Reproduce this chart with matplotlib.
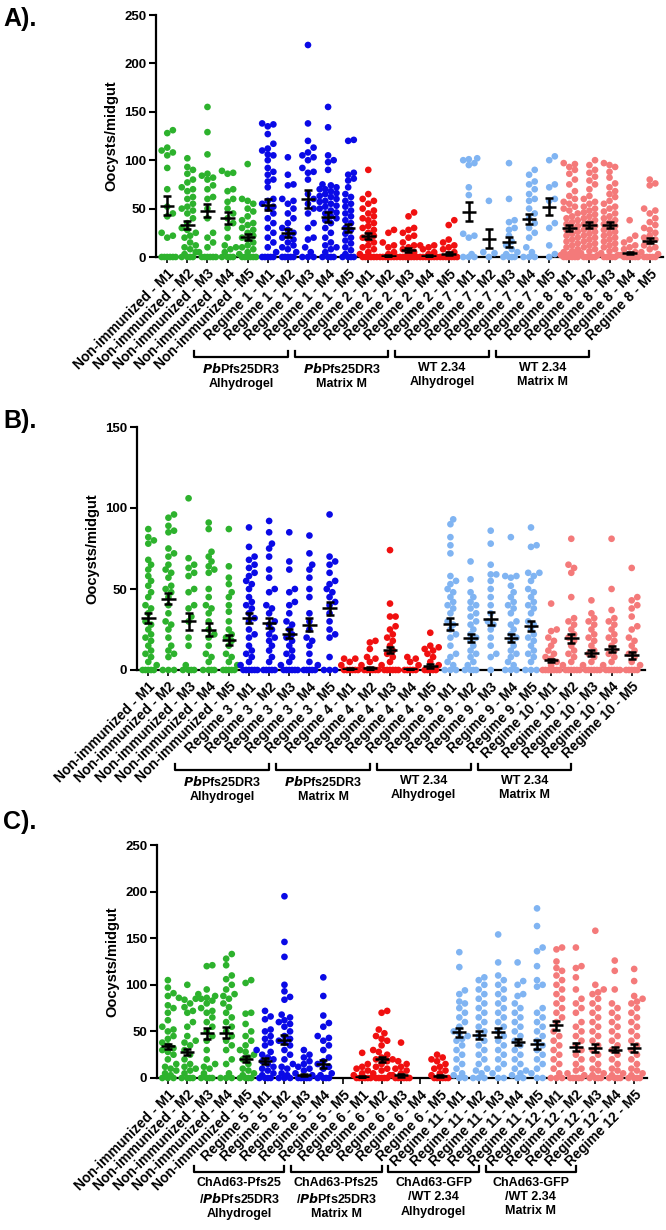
"""Oocyst counts per midgut for three immunisation experiments (panels A-C)."""

import numpy as np
import matplotlib

matplotlib.use("Agg")
import matplotlib.pyplot as plt
from matplotlib.transforms import blended_transform_factory

NARROW = ["Liberation Sans Narrow", "Liberation Sans", "DejaVu Sans"]
plt.rcParams["font.family"] = ["Liberation Sans", "DejaVu Sans"]
plt.rcParams["mathtext.fontset"] = "custom"
plt.rcParams["mathtext.it"] = "Liberation Sans Narrow:italic:bold"
plt.rcParams["mathtext.rm"] = "Liberation Sans Narrow:bold"

COLORS = ["#2db22d", "#0a0ae6", "#f01010", "#80b4f2", "#f47a7a"]
MICE = ["M1", "M2", "M3", "M4", "M5"]

# ---- panel A -------------------------------------------------------------
A_regimes = ["Non-immunized", "Regime 1", "Regime 2", "Regime 7", "Regime 8"]
A_non_immunized = [
    [131, 128, 113, 110, 108, 105, 92, 70, 52, 45, 42, 25, 22, 20, 0, 0, 0, 0, 0, 0],
    [102, 93, 90, 86, 80, 77, 72, 70, 68, 62, 60, 55, 52, 50, 48, 45, 40, 35, 30, 28, 25, 22, 20, 15, 12, 10, 8, 5, 3, 0, 0, 0, 0],
    [155, 129, 106, 86, 84, 82, 80, 74, 70, 62, 60, 50, 40, 25, 20, 15, 10, 5, 0, 0, 0, 0, 0, 0],
    [89, 87, 86, 70, 68, 60, 57, 50, 45, 40, 35, 30, 20, 12, 10, 8, 5, 0, 0, 0, 0],
    [96, 60, 58, 55, 50, 47, 42, 38, 35, 33, 30, 28, 25, 22, 20, 18, 15, 12, 10, 8, 5, 3, 0, 0, 0, 0, 0, 0],
]
A_regime1 = [
    [138, 137, 135, 127, 117, 112, 110, 106, 105, 100, 92, 88, 85, 80, 78, 72, 60, 58, 55, 52, 50, 45, 40, 35, 30, 25, 20, 15, 10, 5, 0, 0, 0, 0, 0],
    [103, 85, 75, 74, 60, 58, 55, 50, 45, 40, 35, 30, 28, 25, 22, 20, 18, 15, 12, 10, 8, 5, 0, 0, 0, 0, 0],
    [219, 138, 120, 113, 108, 105, 103, 100, 92, 88, 87, 80, 65, 60, 55, 50, 45, 35, 30, 20, 18, 10, 5, 0, 0, 0],
    [155, 134, 105, 100, 98, 90, 75, 74, 72, 70, 70, 68, 66, 65, 63, 62, 60, 58, 57, 55, 53, 52, 50, 48, 46, 45, 42, 40, 38, 35, 30, 25, 20, 15, 12, 10, 8, 5, 0, 0, 0, 0],
    [121, 120, 87, 85, 81, 79, 72, 65, 62, 58, 55, 52, 48, 45, 42, 38, 35, 30, 28, 24, 20, 17, 14, 10, 7, 3, 0, 0, 0, 0],
]
A_regime2 = [
    [90, 65, 60, 58, 55, 50, 48, 45, 42, 40, 38, 35, 32, 30, 28, 25, 22, 20, 18, 15, 12, 10, 8, 5, 3, 0, 0, 0, 0, 0, 0],
    [28, 25, 15, 12, 10, 5, 3, 0, 0, 0, 0, 0, 0, 0, 0],
    [46, 42, 30, 28, 25, 22, 20, 15, 12, 10, 8, 5, 3, 0, 0, 0, 0, 0, 0, 0, 0],
    [12, 12, 10, 8, 5, 3, 0, 0, 0, 0, 0, 0, 0, 0],
    [38, 33, 18, 15, 12, 10, 8, 5, 3, 0, 0, 0, 0, 0, 0, 0, 0],
]
A_regime7 = [
    [102, 101, 100, 97, 95, 72, 64, 24, 22, 20, 3, 0, 0, 0],
    [58, 5, 4, 0],
    [97, 60, 38, 36, 30, 28, 22, 16, 12, 8, 5, 3, 0, 0, 0, 0],
    [90, 85, 78, 75, 70, 65, 60, 58, 50, 45, 40, 35, 30, 25, 20, 10, 5, 0, 0, 0],
    [104, 100, 75, 72, 60, 58, 35, 30, 12, 3, 0],
]
A_regime8 = [
    [97, 96, 93, 90, 86, 80, 75, 68, 63, 60, 57, 55, 52, 50, 48, 45, 42, 40, 38, 36, 34, 32, 30, 28, 26, 24, 22, 20, 18, 16, 14, 12, 10, 8, 6, 5, 4, 3, 2, 0, 0, 0, 0, 0, 0],
    [100, 95, 90, 87, 83, 79, 75, 70, 63, 60, 57, 55, 52, 50, 48, 46, 44, 42, 40, 38, 36, 34, 32, 30, 28, 26, 24, 22, 20, 18, 16, 14, 12, 10, 8, 6, 4, 2, 0, 0, 0, 0, 0],
    [97, 95, 93, 88, 82, 76, 72, 68, 65, 62, 58, 55, 52, 50, 47, 45, 42, 40, 38, 36, 34, 32, 30, 28, 26, 24, 22, 20, 18, 16, 14, 12, 10, 8, 6, 4, 2, 0, 0, 0, 0, 0],
    [38, 22, 18, 15, 12, 10, 8, 5, 3, 2, 0, 0, 0, 0, 0, 0],
    [80, 76, 74, 50, 48, 45, 40, 36, 33, 30, 28, 25, 22, 20, 18, 15, 12, 10, 8, 5, 3, 0, 0, 0, 0, 0],
]
A_means = [53, 33, 48, 40, 21, 54, 25, 60, 41, 30, 22, 1, 7, 1, 3.5, 47, 19, 15.5, 39, 52, 30, 33, 33, 4.5, 17]
A_sems = [10, 4, 7, 6, 3, 5.5, 4, 9, 5, 4, 3, 1, 2, 0.7, 1.2, 10, 10, 5, 5, 9, 3.5, 3, 3.5, 1, 2.5]
A_groups = ["$\\mathit{Pb}$Pfs25DR3\nAlhydrogel", "$\\mathit{Pb}$Pfs25DR3\nMatrix M",
            "WT 2.34\nAlhydrogel", "WT 2.34\nMatrix M"]

# ---- panel B -------------------------------------------------------------
B_regimes = ["Non-immunized", "Regime 3", "Regime 4", "Regime 9", "Regime 10"]
B_non_immunized = [
    [87, 82, 80, 78, 68, 65, 62, 58, 55, 52, 48, 45, 40, 38, 35, 30, 28, 25, 22, 20, 18, 15, 12, 10, 8, 5, 3, 0, 0, 0, 0, 0],
    [96, 94, 89, 86, 85, 75, 72, 70, 65, 62, 60, 57, 52, 50, 48, 45, 40, 35, 30, 28, 25, 20, 15, 12, 10, 8, 0, 0, 0],
    [106, 69, 65, 63, 60, 58, 50, 48, 40, 38, 33, 30, 20, 15, 3, 0, 0, 0, 0],
    [91, 87, 73, 70, 67, 64, 62, 60, 50, 45, 40, 38, 35, 30, 25, 22, 20, 15, 10, 8, 5, 0, 0, 0, 0],
    [87, 64, 57, 53, 48, 45, 40, 36, 30, 25, 22, 20, 18, 15, 10, 8, 5, 3, 0, 0, 0, 0, 0],
]
B_regime3 = [
    [88, 76, 70, 68, 65, 63, 60, 58, 55, 53, 50, 45, 42, 40, 38, 35, 32, 30, 25, 22, 20, 15, 12, 10, 8, 5, 3, 0, 0, 0, 0, 0, 0],
    [92, 85, 78, 75, 70, 62, 57, 50, 48, 40, 38, 35, 30, 28, 25, 22, 20, 18, 15, 12, 8, 5, 0, 0, 0, 0, 0],
    [85, 67, 62, 50, 48, 42, 40, 35, 30, 28, 25, 22, 20, 18, 15, 12, 10, 8, 5, 3, 0, 0, 0, 0, 0, 0],
    [83, 72, 65, 62, 57, 50, 45, 35, 30, 25, 20, 18, 15, 10, 5, 3, 0, 0, 0, 0, 0],
    [96, 70, 67, 65, 60, 55, 53, 50, 48, 45, 42, 40, 35, 30, 25, 22, 20, 8, 0, 0, 0],
]
B_regime4 = [
    [7, 7, 5, 3, 0, 0, 0, 0, 0, 0],
    [18, 17, 13, 8, 7, 5, 3, 0, 0, 0, 0, 0, 0],
    [74, 41, 33, 33, 27, 25, 22, 20, 18, 15, 12, 10, 8, 5, 3, 0, 0, 0, 0, 0, 0],
    [8, 7, 5, 3, 0, 0, 0, 0, 0],
    [23, 15, 14, 13, 12, 10, 8, 5, 3, 0, 0, 0, 0, 0],
]
B_regime9 = [
    [93, 90, 82, 77, 72, 58, 55, 53, 50, 48, 45, 42, 40, 38, 35, 30, 28, 25, 22, 20, 15, 10, 8, 5, 3, 0, 0, 0],
    [67, 56, 48, 45, 42, 40, 38, 35, 33, 30, 28, 25, 22, 20, 18, 15, 12, 10, 8, 5, 3, 0, 0, 0, 0],
    [86, 78, 65, 59, 59, 55, 50, 45, 40, 35, 30, 28, 25, 20, 15, 10, 8, 0],
    [82, 58, 58, 57, 52, 48, 45, 42, 40, 38, 35, 30, 28, 25, 22, 20, 18, 15, 12, 10, 8, 5, 3, 0, 0, 0],
    [88, 77, 76, 60, 60, 58, 55, 50, 48, 45, 42, 40, 38, 35, 30, 28, 25, 22, 20, 18, 15, 12, 10, 8, 5, 0, 0, 0],
]
B_regime10 = [
    [41, 25, 24, 20, 18, 15, 12, 10, 8, 7, 5, 3, 0, 0, 0, 0, 0, 0, 0, 0],
    [81, 65, 63, 60, 45, 32, 30, 28, 25, 22, 20, 18, 15, 12, 10, 8, 5, 3, 0, 0, 0, 0, 0, 0],
    [43, 35, 32, 30, 28, 25, 22, 20, 18, 15, 12, 10, 8, 5, 3, 0, 0, 0, 0, 0, 0],
    [81, 50, 37, 32, 30, 28, 25, 22, 20, 18, 15, 12, 10, 8, 5, 3, 0, 0, 0, 0, 0, 0],
    [63, 45, 43, 40, 38, 33, 27, 25, 20, 18, 15, 12, 10, 8, 5, 3, 0, 0, 0, 0, 0],
]
B_means = [32, 44, 30, 25, 18.5, 32, 29, 22.5, 28, 38, 0.5, 1, 12.5, 0.5, 2.5, 28.5, 19.5, 31.5, 19.5, 27, 6, 19.5, 10.5, 13, 9]
B_sems = [3, 3.5, 5, 4, 3, 3, 3, 3, 4, 4, 0.5, 0.7, 2, 0.4, 1, 3.5, 2.5, 4, 2.5, 3, 1, 3, 2, 2, 2]
B_groups = A_groups

# ---- panel C -------------------------------------------------------------
C_regimes = ["Non-immunized", "Regime 5", "Regime 6", "Regime 11", "Regime 12"]
C_non_immunized = [
    [105, 97, 91, 88, 78, 75, 70, 62, 55, 52, 50, 45, 42, 38, 35, 32, 30, 28, 25, 20, 15, 12, 10, 8, 5, 3, 0, 0, 0],
    [100, 86, 85, 84, 80, 76, 72, 70, 60, 55, 45, 40, 38, 35, 30, 25, 20, 15, 12, 10, 8, 5, 0, 0, 0, 0],
    [121, 120, 95, 90, 88, 86, 85, 83, 80, 75, 72, 70, 65, 60, 55, 50, 45, 40, 30, 20, 15, 12, 10, 5, 0, 0, 0, 0],
    [133, 128, 121, 110, 106, 100, 95, 90, 88, 85, 80, 76, 70, 65, 60, 55, 50, 45, 40, 35, 30, 20, 15, 5, 0, 0, 0],
    [105, 102, 70, 69, 58, 50, 45, 40, 35, 30, 28, 25, 22, 20, 15, 10, 8, 5, 3, 0, 0, 0, 0],
]
C_regime5 = [
    [72, 66, 63, 52, 50, 45, 42, 38, 35, 30, 28, 25, 22, 20, 18, 15, 12, 10, 8, 5, 3, 0, 0, 0, 0],
    [195, 146, 130, 100, 93, 87, 84, 68, 65, 62, 60, 58, 55, 50, 45, 42, 40, 38, 35, 30, 25, 20, 15, 12, 10, 5, 3, 0, 0, 0],
    [30, 25, 22, 18, 15, 12, 10, 8, 5, 3, 0, 0, 0, 0, 0],
    [108, 88, 67, 59, 55, 45, 43, 40, 35, 30, 22, 18, 15, 12, 10, 5, 3, 0, 0, 0, 0],
    [],
]
C_regime6 = [
    [27, 15, 12, 10, 8, 5, 3, 0, 0, 0, 0, 0, 0],
    [72, 70, 52, 48, 45, 42, 40, 35, 30, 28, 25, 22, 20, 18, 15, 12, 10, 8, 5, 3, 0, 0, 0, 0, 0],
    [38, 20, 18, 15, 12, 10, 8, 5, 3, 0, 0, 0, 0, 0, 0],
    [],
    [25, 22, 20, 18, 15, 12, 10, 8, 5, 3, 0, 0, 0, 0, 0, 0],
]
C_regime11 = [
    [135, 119, 94, 90, 82, 80, 75, 70, 65, 60, 55, 50, 48, 45, 42, 40, 35, 30, 25, 20, 15, 10, 5, 3, 0, 0],
    [108, 105, 100, 95, 90, 85, 80, 75, 70, 65, 60, 55, 50, 45, 40, 35, 30, 25, 20, 15, 10, 8, 5, 0, 0, 0],
    [154, 124, 110, 105, 100, 95, 90, 85, 80, 75, 70, 65, 60, 55, 50, 45, 40, 35, 30, 25, 20, 15, 10, 5, 0, 0],
    [124, 104, 100, 90, 88, 80, 75, 70, 65, 60, 55, 50, 45, 40, 35, 30, 25, 20, 15, 10, 8, 5, 3, 0, 0],
    [182, 163, 140, 136, 120, 105, 100, 98, 75, 70, 65, 60, 55, 50, 45, 40, 35, 30, 25, 20, 15, 10, 5, 0, 0],
]
C_regime12 = [
    [140, 138, 125, 118, 115, 110, 105, 100, 95, 90, 85, 80, 75, 70, 65, 60, 50, 45, 40, 35, 30, 25, 20, 15, 10, 5, 0, 0, 0],
    [140, 120, 118, 108, 95, 85, 80, 75, 70, 60, 55, 50, 45, 40, 35, 30, 25, 20, 15, 10, 8, 5, 3, 0, 0, 0, 0, 0],
    [158, 100, 95, 92, 90, 85, 80, 75, 70, 65, 60, 55, 50, 45, 40, 35, 30, 25, 20, 15, 10, 8, 5, 3, 0, 0, 0, 0],
    [126, 115, 95, 80, 75, 70, 65, 60, 55, 50, 45, 40, 35, 30, 25, 20, 15, 10, 8, 5, 3, 0, 0, 0, 0],
    [117, 104, 88, 85, 82, 80, 75, 70, 65, 60, 55, 50, 45, 40, 35, 30, 25, 20, 15, 10, 8, 5, 3, 0, 0, 0, 0],
]
C_means = [34, 28, 48, 48.5, 20.5, 18, 41, 3.5, 15, np.nan, 1, 20, 3, np.nan, 2,
           49, 46, 49, 38.5, 36, 56.5, 33.5, 32, 30.5, 32]
C_sems = [3, 3, 6, 6, 3, 3, 5, 1, 4, np.nan, 1, 3, 1.5, np.nan, 1,
          5, 4.5, 4.5, 3.5, 4.5, 5, 4, 4.5, 3, 4]
C_groups = ["ChAd63-Pfs25\n/$\\mathit{Pb}$Pfs25DR3\nAlhydrogel", "ChAd63-Pfs25\n/$\\mathit{Pb}$Pfs25DR3\nMatrix M",
            "ChAd63-GFP\n/WT 2.34\nAlhydrogel", "ChAd63-GFP\n/WT 2.34\nMatrix M"]

W, H = 666, 1230


def swarm_x(ax, center, values, d=5.6, max_off=9.0):
    """Spread points sideways (in pixels) so that dots at similar heights do not pile up."""
    vals = np.asarray(values, float)
    if vals.size == 0:
        return vals
    ypx = ax.transData.transform(np.column_stack([np.full(vals.size, center), vals]))[:, 1]
    px_unit = ax.transData.transform((center + 1, 0))[0] - ax.transData.transform((center, 0))[0]
    step = d / 2
    cands = [0.0]
    k = 1
    while k * step <= max_off:
        cands += [k * step, -k * step]
        k += 1
    placed = []
    offs = np.zeros(vals.size)
    for i in np.argsort(vals, kind="stable"):
        best, best_gap = 0.0, -1.0
        for c in cands:
            gap = min((np.hypot(c - px, ypx[i] - py) for px, py in placed), default=np.inf)
            if gap >= d:
                best = c
                break
            if gap > best_gap:
                best, best_gap = c, gap
        placed.append((best, ypx[i]))
        offs[i] = best
    return center + offs / px_unit


def draw_panel(fig, box, letter, letter_y, regimes, blocks, means, sems, groups, ymax, bracket_y):
    left, right, top, bottom = box
    ax = fig.add_axes([left / W, 1 - bottom / H, (right - left) / W, (bottom - top) / H])
    ax.set_xlim(-0.56, 24.66)
    ax.set_ylim(0, ymax)
    for s in ("top", "right"):
        ax.spines[s].set_visible(False)
    for s in ("left", "bottom"):
        ax.spines[s].set_linewidth(1.6)
    ax.set_yticks(np.arange(0, ymax + 1, 50))
    ax.tick_params(axis="y", length=5, width=1.5, labelsize=9.5, pad=2)
    ax.tick_params(axis="x", length=4, width=1.2, pad=3)
    for t in ax.get_yticklabels():
        t.set_fontweight("bold")

    labels = []
    for b, (regime, block) in enumerate(zip(regimes, blocks)):
        for m, vals in enumerate(block):
            idx = b * 5 + m
            labels.append(f"{regime} - {MICE[m]}")
            if len(vals):
                xs = swarm_x(ax, idx, vals)
                ax.scatter(xs, vals, s=23, color=COLORS[b], edgecolors="none",
                           zorder=3, clip_on=False)
    idx = np.arange(len(means))
    ax.errorbar(idx, means, yerr=sems, fmt="none", ecolor="black", elinewidth=1.8,
                capsize=3.2, capthick=1.8, zorder=4)
    ax.hlines(means, idx - 0.36, idx + 0.36, color="black", lw=1.8, zorder=4)

    ax.set_xticks(idx)
    ax.set_xticklabels(labels, rotation=45, ha="right", rotation_mode="anchor",
                       fontsize=10, fontweight="bold")
    ax.set_ylabel("Oocysts/midgut", fontsize=10.5, fontweight="bold")
    ax.yaxis.set_label_coords(-38 / (right - left), 0.5)

    fig.text(3 / W, 1 - letter_y / H, letter, fontsize=18, fontweight="bold",
             ha="left", va="center")

    tr = blended_transform_factory(ax.transData, fig.transFigure)
    for g, text in enumerate(groups):
        i, j = 5 + 5 * g, 9 + 5 * g
        x0, x1 = i - 3.65, j - 3.0
        yb, yt = 1 - bracket_y / H, 1 - (bracket_y - 6) / H
        ax.plot([x0, x0, x1, x1], [yt, yb, yb, yt], transform=tr, color="black",
                lw=1.6, clip_on=False)
        ax.text((x0 + x1) / 2, 1 - (bracket_y + 5) / H, text, transform=tr,
                ha="center", va="top", fontsize=9, fontweight="bold", family=NARROW,
                linespacing=1.25)
    return ax


fig = plt.figure(figsize=(W / 100, H / 100), dpi=100)
draw_panel(fig, (156, 663, 15, 257), "A).", 19, A_regimes,
           [A_non_immunized, A_regime1, A_regime2, A_regime7, A_regime8],
           A_means, A_sems, A_groups, 250, 357)
draw_panel(fig, (137, 645, 427, 670), "B).", 421, B_regimes,
           [B_non_immunized, B_regime3, B_regime4, B_regime9, B_regime10],
           B_means, B_sems, B_groups, 150, 770)
draw_panel(fig, (157, 647, 845, 1078), "C).", 822, C_regimes,
           [C_non_immunized, C_regime5, C_regime6, C_regime11, C_regime12],
           C_means, C_sems, C_groups, 250, 1172)
fig.savefig("out.png", dpi=100)
